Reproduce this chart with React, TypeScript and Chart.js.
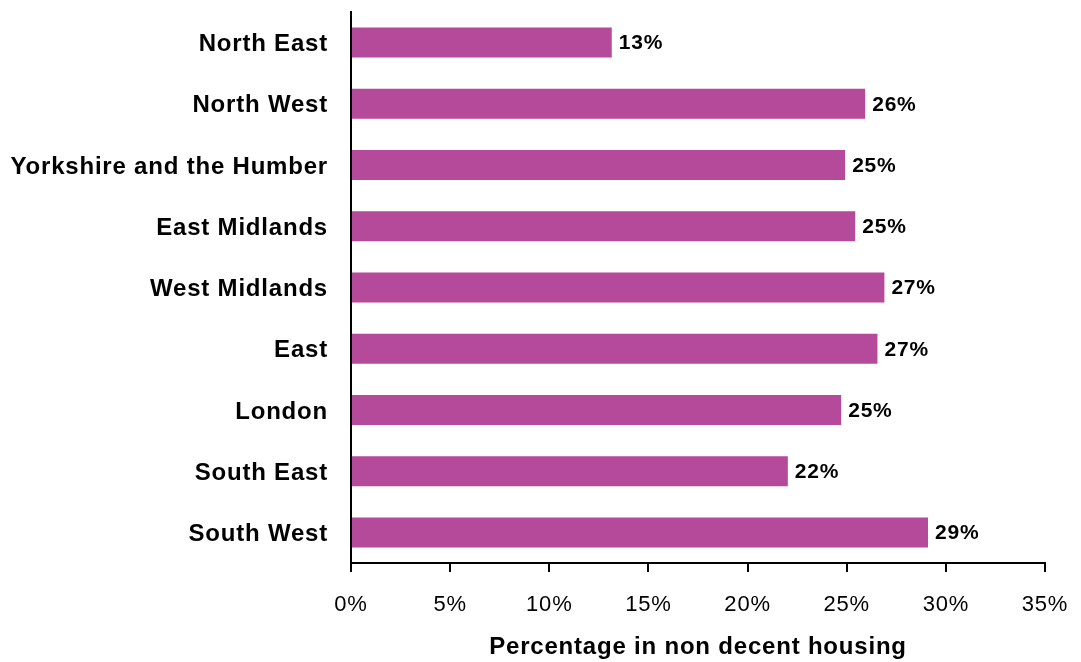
import React, { useEffect, useRef } from "react";
import { Chart, registerables } from "chart.js";

Chart.register(...registerables);

const categories = [
  "North East",
  "North West",
  "Yorkshire and the Humber",
  "East Midlands",
  "West Midlands",
  "East",
  "London",
  "South East",
  "South West",
];
const values = [13.15, 25.93, 24.92, 25.43, 26.9, 26.55, 24.72, 22.03, 29.1];
const valueLabels = ["13%", "26%", "25%", "25%", "27%", "27%", "25%", "22%", "29%"];
const xTicks = [0, 5, 10, 15, 20, 25, 30, 35];
const axisTitle = "Percentage in non decent housing";

const FONT = "'Liberation Sans', Arial, Helvetica, sans-serif";
const SPACING = "0.8px";

const spacingPlugin = {
  id: "spacing",
  beforeLayout(chart: any) {
    chart.ctx.letterSpacing = SPACING;
  },
  beforeDraw(chart: any) {
    chart.ctx.letterSpacing = SPACING;
  },
};

const dataLabelPlugin = {
  id: "dataLabels",
  afterDatasetsDraw(chart: any) {
    const ctx = chart.ctx;
    const meta = chart.getDatasetMeta(0);
    ctx.save();
    ctx.letterSpacing = SPACING;
    ctx.font = `bold 21px ${FONT}`;
    ctx.fillStyle = "#000";
    ctx.textAlign = "left";
    ctx.textBaseline = "middle";
    meta.data.forEach((bar: any, i: number) => {
      ctx.fillText(valueLabels[i], bar.x + 7, bar.y + 1);
    });
    ctx.restore();
  },
};

export default function App() {
  const ref = useRef<HTMLCanvasElement>(null);
  useEffect(() => {
    if (!ref.current) return;
    const chart = new Chart(ref.current, {
      type: "bar",
      data: {
        labels: categories,
        datasets: [
          {
            data: values,
            backgroundColor: "#B5499A",
            borderWidth: 0,
            categoryPercentage: 1,
            barPercentage: 0.49,
          },
        ],
      },
      options: {
        indexAxis: "y",
        animation: false,
        responsive: false,
        maintainAspectRatio: false,
        devicePixelRatio: 1,
        layout: { padding: { top: 12, right: 36, left: 0, bottom: 0 } },
        plugins: {
          legend: { display: false },
          tooltip: { enabled: false },
        },
        scales: {
          x: {
            min: 0,
            max: 35,
            afterFit: (scale: any) => {
              scale.height = 99;
              scale.paddingLeft = 0;
              scale.paddingRight = 0;
            },
            afterBuildTicks: (scale: any) => {
              scale.ticks = xTicks.map((v) => ({ value: v }));
            },
            grid: {
              drawOnChartArea: false,
              drawTicks: true,
              tickLength: 9,
              color: "#000",
              lineWidth: 2,
            },
            border: { display: true, color: "#000", width: 2 },
            ticks: {
              color: "#000",
              font: { family: FONT, size: 22 },
              padding: 20,
              callback: (v: any) => `${v}%`,
            },
            title: {
              display: true,
              text: axisTitle,
              color: "#000",
              font: { family: FONT, size: 24, weight: "bold" },
              padding: { top: 8, bottom: 0 },
            },
          },
          y: {
            afterFit: (scale: any) => {
              scale.width = 351;
              scale.paddingTop = 0;
              scale.paddingBottom = 0;
            },
            grid: { display: false, drawTicks: false },
            border: { display: true, color: "#000", width: 2 },
            ticks: {
              color: "#000",
              font: { family: FONT, size: 24, weight: "bold" },
              padding: 23,
              labelOffset: 2,
            },
          },
        },
      },
      plugins: [spacingPlugin, dataLabelPlugin],
    });
    return () => chart.destroy();
  }, []);
  return (
    <div style={{ position: "absolute", left: 0, top: 0, width: 1081, height: 662, background: "#fff" }}>
      <canvas ref={ref} width={1081} height={662} style={{ width: 1081, height: 662 }} />
    </div>
  );
}
